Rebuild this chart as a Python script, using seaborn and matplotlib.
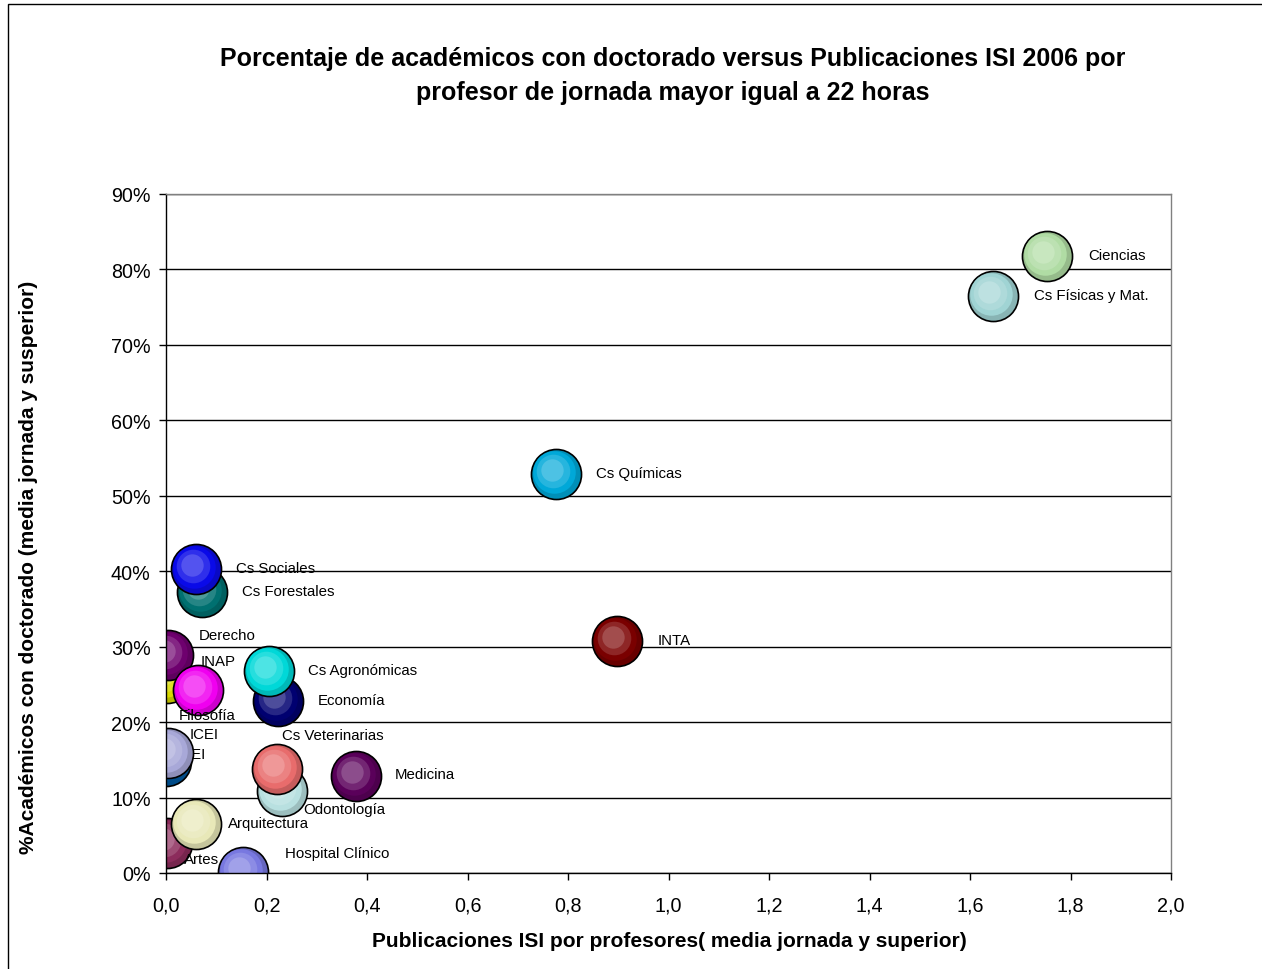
import matplotlib
matplotlib.use("Agg")
import matplotlib.pyplot as plt
import matplotlib.colors as mcolors
from matplotlib.transforms import offset_copy
from matplotlib.patches import Rectangle
from matplotlib.ticker import FuncFormatter, MultipleLocator
import seaborn as sns
import pandas as pd

# datos (orden de dibujo: los últimos quedan encima)
facultades = ["Ciencias", "Cs Físicas y Mat.", "Cs Químicas", "INTA",
              "Cs Forestales", "Cs Sociales", "INAP", "Derecho", "Filosofía",
              "Economía", "Cs Agronómicas", "IEI", "ICEI", "Odontología",
              "Cs Veterinarias", "Medicina", "Artes", "Arquitectura",
              "Hospital Clínico"]
publicaciones = [1.753, 1.646, 0.776, 0.898,
                 0.072, 0.060, 0.002, 0.004, 0.064,
                 0.223, 0.205, 0.0, 0.004, 0.231,
                 0.221, 0.378, 0.002, 0.060,
                 0.153]
pct_doctorado = [81.8, 76.5, 52.9, 30.8,
                 37.2, 40.3, 25.9, 28.9, 24.2,
                 22.8, 26.8, 14.8, 15.9, 10.9,
                 13.8, 12.9, 4.0, 6.5,
                 0.1]
colores = ["#b0dca4", "#a0d4d4", "#00a8d8", "#7a0000",
           "#007070", "#0a0ae8", "#d8d800", "#6e006e", "#f000f0",
           "#000070", "#00d8d8", "#0058a0", "#a8a8d8", "#b8e0e0",
           "#e86c6c", "#5a005a", "#8c2c5c", "#e8e8b8",
           "#7878e0"]

# desplazamiento de cada etiqueta respecto a su burbuja (pixeles, +y hacia arriba)
offsets = {"Ciencias": (41, 1), "Cs Físicas y Mat.": (41, 1), "Cs Químicas": (40, 1),
           "INTA": (40, 1), "Cs Forestales": (40, 1), "Cs Sociales": (40, 1),
           "INAP": (34, 17), "Derecho": (31, 20), "Filosofía": (-19, -25),
           "Economía": (40, 1), "Cs Agronómicas": (39, 1), "IEI": (22, 7),
           "ICEI": (22, 19), "Odontología": (21, -18), "Cs Veterinarias": (5, 34),
           "Medicina": (39, 2), "Artes": (17, -16), "Arquitectura": (32, 1),
           "Hospital Clínico": (42, 19)}

df = pd.DataFrame({"Facultad": facultades, "Publicaciones": publicaciones,
                   "Doctorado": pct_doctorado, "Color": colores})

sns.set_style("white")
plt.rcParams["font.family"] = ["Liberation Sans", "DejaVu Sans"]
plt.rcParams["text.color"] = "black"
plt.rcParams["axes.labelcolor"] = "black"
plt.rcParams["xtick.color"] = "black"
plt.rcParams["ytick.color"] = "black"

fig = plt.figure(figsize=(12.62, 9.70), dpi=100)
ax = fig.add_axes([166 / 1262, 1 - 874 / 970, (1171 - 166) / 1262, (874 - 195) / 970])

size = 1300  # burbuja ~50 px de diámetro


def mezcla(c, f):
    r, g, b = mcolors.to_rgb(c)
    return (r + (1 - r) * f, g + (1 - g) * f, b + (1 - b) * f)


def oscuro(c, f):
    r, g, b = mcolors.to_rgb(c)
    return (r * f, g * f, b * f)


for i, row in df.iterrows():
    sub = df.iloc[[i]]
    sns.scatterplot(data=sub, x="Publicaciones", y="Doctorado", s=size,
                    color=oscuro(row["Color"], 0.85), edgecolor="black",
                    linewidth=1.2, ax=ax, legend=False, zorder=3 + i * 0.1)
    # capas de brillo para el efecto 3D
    for k, (esc, luz, dx, dy) in enumerate([(0.72, 0.0, -2, 2), (0.45, 0.15, -3, 3),
                                             (0.2, 0.3, -4, 4)]):
        tr = offset_copy(ax.transData, fig=fig, x=dx, y=dy, units="dots")
        ax.scatter(sub["Publicaciones"], sub["Doctorado"], s=size * esc,
                   color=mezcla(row["Color"], luz), linewidth=0,
                   transform=tr, zorder=3 + i * 0.1 + 0.01 * (k + 1))
    ox, oy = offsets[row["Facultad"]]
    ax.annotate(row["Facultad"], (row["Publicaciones"], row["Doctorado"]),
                xytext=(ox, oy), textcoords="offset pixels", ha="left",
                va="center", fontsize=10.8, color="black",
                zorder=3 + i * 0.1 + 0.05)

ax.set_xlim(0, 2.0)
ax.set_ylim(0, 90)
ax.xaxis.set_major_locator(MultipleLocator(0.2))
ax.yaxis.set_major_locator(MultipleLocator(10))
ax.xaxis.set_major_formatter(FuncFormatter(lambda v, p: f"{v:.1f}".replace(".", ",")))
ax.yaxis.set_major_formatter(FuncFormatter(lambda v, p: f"{v:.0f}%"))
ax.grid(axis="y", color="black", linewidth=1)
ax.set_axisbelow(True)
ax.tick_params(axis="both", direction="out", length=5, width=1, color="black",
               labelsize=14.2, bottom=True, left=True)
ax.tick_params(axis="x", pad=11)
ax.tick_params(axis="y", pad=6)
for lado in ["top", "right"]:
    ax.spines[lado].set_color("#808080")
for lado in ["left", "bottom"]:
    ax.spines[lado].set_color("black")
for s in ax.spines.values():
    s.set_linewidth(1)
    s.set_zorder(10)

ax.set_xlabel("Publicaciones ISI por profesores( media jornada y superior)",
              fontsize=15, fontweight="bold")
ax.set_ylabel("%Académicos con doctorado (media jornada y susperior)",
              fontsize=15, fontweight="bold")
ax.xaxis.set_label_coords((669 - 166) / 1005, (874 - 932) / 679)
ax.yaxis.set_label_coords((38 - 166) / 1005, (874 - 567) / 679)

fig.text(673 / 1262, 1 - 76 / 970,
         "Porcentaje de académicos con doctorado versus Publicaciones ISI 2006 por\n"
         "profesor de jornada mayor igual a 22 horas",
         ha="center", va="center", fontsize=18, fontweight="bold", linespacing=1.5)

fig.patches.append(Rectangle((8 / 1262, -0.01), 1.1, 1 - 5 / 970 + 0.01,
                             transform=fig.transFigure, fill=False,
                             edgecolor="black", linewidth=1))

fig.savefig("out.png", dpi=100)
